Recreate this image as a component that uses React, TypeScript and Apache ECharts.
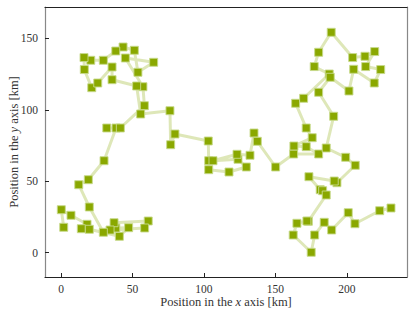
import React, { useEffect, useRef } from "react";
import * as echarts from "echarts";

const xValues = [
  1.9, 0.2, 7, 18.2, 14.2, 19.8, 40.8, 47.3, 38.3, 37.1, 61, 58.5, 34.3, 29.6, 19.8, 12.4, 19.1, 30.1,
  38.5, 32, 41.5, 58.3, 57.3, 45, 64.8, 53.8, 51.3, 43.4, 38.3, 29.6, 20.8, 16.1, 16.3, 21.5, 25.7, 35.7,
  35.7, 52.9, 55.7, 76.2, 76.7, 79.7, 103, 103.3, 103.3, 117.5, 129.6, 123.8, 106.3, 123.1, 132.2, 135,
  137.3, 150.1, 162.7, 180.2, 171.5, 162.9, 175.7, 171.5, 164.1, 169.7, 187.6, 177.1, 180.2, 189, 204,
  212.6, 219.4, 213.1, 223.6, 219.1, 204.7, 201.4, 188.3, 180.2, 190.7, 185.5, 199.1, 205.8, 193, 191.1,
  173.4, 181.3, 183, 185.5, 173, 172, 165, 162.4, 175, 177.4, 184.1, 189.3, 200.9, 205.6, 222.9, 230.8,
];
const yValues = [
  17.8, 30.1, 26.2, 19.9, 16.8, 16.4, 11.5, 17.5, 17.3, 21, 22.2, 17.3, 15.9, 14.3, 32, 47.6, 51.1, 64.4,
  87.3, 87.3, 87.3, 102.9, 116.2, 136.3, 133.3, 126.3, 141.7, 144, 141.2, 134.7, 134.7, 136.6, 128.2, 115.5,
  118.8, 130, 121.1, 116.7, 97.1, 99.4, 75.6, 83.1, 78.2, 64.4, 58.1, 56.5, 60, 65.4, 64.4, 68.9, 68.2,
  83.8, 78, 60, 69.1, 69.1, 74.2, 74.7, 80.5, 87.3, 104.6, 108.1, 125.1, 130.3, 140.3, 154.3, 136.6,
  137.5, 140.8, 130.3, 128.2, 118.8, 128.4, 113.2, 122.8, 112.3, 95.5, 73.3, 66.8, 61.2, 49, 50.2, 53.2,
  44.1, 43.4, 40.4, 22, 22.2, 20.6, 12.4, 0.3, 12.4, 21.3, 15.9, 28, 20.3, 29.4, 31.3,
];
const xTicks = [0, 50, 100, 150, 200];
const yTicks = [0, 50, 100, 150];

const FONT = "Liberation Serif, serif";

export default function App() {
  const ref = useRef<HTMLDivElement>(null);
  useEffect(() => {
    if (!ref.current) return;
    const chart = echarts.init(ref.current, undefined, { renderer: "svg" });
    const data = xValues.map((x, i) => [x, yValues[i]]);
    const tickStyle = { show: true, inside: true, length: 4, lineStyle: { color: "#222", width: 1 } };
    const nameStyle = {
      color: "#333",
      fontSize: 12.5,
      fontFamily: FONT,
      rich: {
        r: { fontSize: 12.5, fontFamily: FONT, color: "#333" },
        i: { fontStyle: "italic", fontSize: 12.5, fontFamily: FONT, color: "#333" },
      },
    };
    chart.setOption({
      animation: false,
      grid: { left: 45, right: 8, top: 7, bottom: 41, containLabel: false, outerBoundsMode: "none" },
      textStyle: { fontFamily: FONT },
      xAxis: [
        {
          type: "value",
          min: -11.2,
          max: 242,
          position: "bottom",
          splitLine: { show: false },
          axisLine: { show: true, onZero: false, lineStyle: { color: "#222", width: 1.2 } },
          axisTick: { ...tickStyle, customValues: xTicks },
          axisLabel: { customValues: xTicks, color: "#333", fontSize: 11.5, fontFamily: FONT, margin: 6 },
          name: "{r|Position in the }{i|x}{r| axis [km]}",
          nameLocation: "middle",
          nameGap: 18,
          nameMoveOverlap: false,
          nameTextStyle: nameStyle,
        },
        {
          type: "value",
          min: -11.2,
          max: 242,
          position: "top",
          splitLine: { show: false },
          axisLine: { show: true, onZero: false, lineStyle: { color: "#222", width: 1.2 } },
          axisTick: { show: false },
          axisLabel: { show: false },
        },
      ],
      yAxis: [
        {
          type: "value",
          min: -17,
          max: 172,
          position: "left",
          splitLine: { show: false },
          axisLine: { show: true, onZero: false, lineStyle: { color: "#888", width: 1.2 } },
          axisTick: { ...tickStyle, customValues: yTicks },
          axisLabel: { customValues: yTicks, color: "#333", fontSize: 11.5, fontFamily: FONT, margin: 7 },
          name: "{r|Position in the }{i|y}{r| axis [km]}",
          nameLocation: "middle",
          nameGap: 25,
          nameMoveOverlap: false,
          nameRotate: 90,
          nameTextStyle: nameStyle,
        },
        {
          type: "value",
          min: -17,
          max: 172,
          position: "right",
          splitLine: { show: false },
          axisLine: { show: true, onZero: false, lineStyle: { color: "#888", width: 1.2 } },
          axisTick: { show: false },
          axisLabel: { show: false },
        },
      ],
      series: [
        {
          type: "line",
          xAxisIndex: 0,
          yAxisIndex: 0,
          data,
          symbol: "rect",
          symbolSize: 8,
          showAllSymbol: true,
          lineStyle: { color: "rgba(138,168,0,0.28)", width: 3 },
          itemStyle: { color: "#8aa800", borderColor: "rgba(200,218,140,0.9)", borderWidth: 1 },
        },
      ],
    });
    return () => chart.dispose();
  }, []);
  return <div ref={ref} style={{ width: 415, height: 318, position: "absolute", left: 0, top: 0 }} />;
}
